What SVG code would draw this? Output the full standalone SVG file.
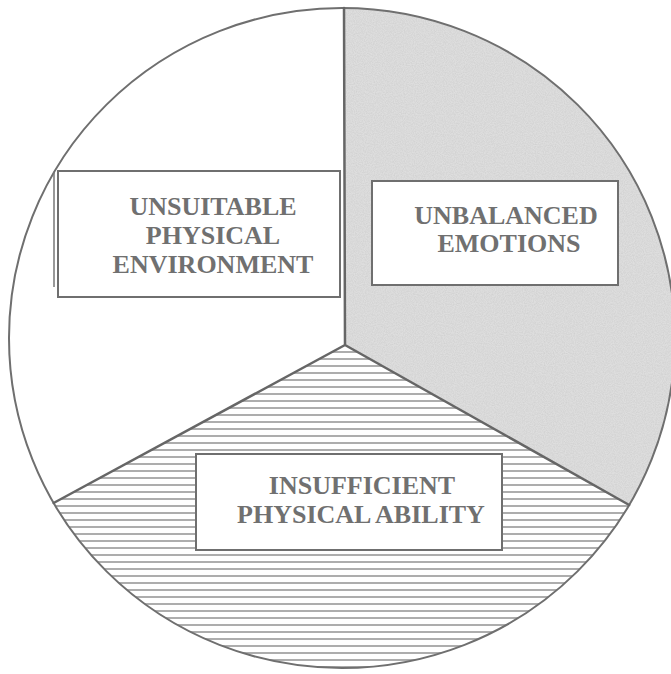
<svg xmlns="http://www.w3.org/2000/svg" width="671" height="674" viewBox="0 0 671 674">
<defs>
<style>
.lbl{font-family:"Liberation Serif","Times New Roman",serif;font-weight:bold;font-size:26px;fill:#707070;text-anchor:middle}
.box{fill:#ffffff;stroke:#6f6f6f;stroke-width:2}
.div{fill:none;stroke:#666;stroke-width:2.5;stroke-linecap:round;stroke-linejoin:round}
</style>
<pattern id="hatch" patternUnits="userSpaceOnUse" width="20" height="7">
<rect width="20" height="7" fill="#ffffff"/>
<line x1="0" y1="2" x2="20" y2="2" stroke="#8a8a8a" stroke-width="1.4"/>
</pattern>
<filter id="speckle" x="0" y="0" width="1" height="1">
<feTurbulence type="fractalNoise" baseFrequency="0.9" numOctaves="2" seed="3" result="n"/>
<feColorMatrix in="n" type="matrix" values="0 0 0 0 0.6  0 0 0 0 0.6  0 0 0 0 0.6  0 0 0 1.2 -0.35" result="dots"/>
<feComposite in="dots" in2="SourceGraphic" operator="in" result="clip"/>
<feMerge><feMergeNode in="SourceGraphic"/><feMergeNode in="clip"/></feMerge>
</filter>
</defs>
<rect width="671" height="674" fill="#ffffff"/>
<g id="sectors">
<path id="sector-environment" d="M345,345 L344,8 A333,330 0 0 0 53.6,503 Z" fill="#ffffff"/>
<path id="sector-emotions" d="M345,345 L344,8 A333,330 0 0 1 629.2,505 Z" fill="#dedede" filter="url(#speckle)"/>
<path id="sector-ability" d="M345,345 L53.6,503 A333,330 0 0 0 629.2,505 Z" fill="url(#hatch)"/>
</g>
<g id="connectors">
<ellipse cx="342" cy="338" rx="333" ry="330" fill="none" stroke="#6f6f6f" stroke-width="2"/>
<path class="div" d="M344,8 L345,345 M53.6,503 L345,345 L629.2,505"/>
</g>
<g id="node-environment">
<line x1="54" y1="172" x2="54" y2="287" stroke="#777" stroke-width="1.5"/>
<rect class="box" x="58" y="171" width="282" height="126"/>
<text class="lbl" x="213" y="215">UNSUITABLE</text>
<text class="lbl" x="213" y="244">PHYSICAL</text>
<text class="lbl" x="213" y="273">ENVIRONMENT</text>
</g>
<g id="node-emotions">
<rect class="box" x="372" y="181" width="246" height="104"/>
<text class="lbl" x="506" y="224">UNBALANCED</text>
<text class="lbl" x="509" y="252">EMOTIONS</text>
</g>
<g id="node-ability">
<rect class="box" x="196" y="454" width="306" height="96"/>
<text class="lbl" x="362" y="494">INSUFFICIENT</text>
<text class="lbl" x="361" y="523">PHYSICAL ABILITY</text>
</g>
</svg>
